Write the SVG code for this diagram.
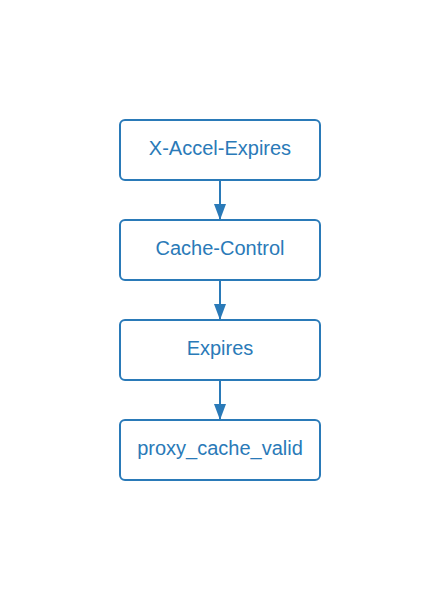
<svg xmlns="http://www.w3.org/2000/svg" width="440" height="600" viewBox="0 0 440 600">
<style>
.node rect{fill:#fff;stroke:#2a7ab8;stroke-width:2}
.node text{fill:#2a7ab8;font-family:"Liberation Sans",Arial,sans-serif;font-size:20px;text-anchor:middle}
.edge{stroke:#2a7ab8;stroke-width:2;fill:none}
</style>
<defs>
<marker id="arr" markerWidth="16" markerHeight="12" refX="16" refY="6" orient="auto" markerUnits="userSpaceOnUse" viewBox="0 0 16 12">
<path d="M0,0 L16,6 L0,12 Z" fill="#2a7ab8"/>
</marker>
</defs>
<rect width="440" height="600" fill="#fff"/>
<g id="connectors">
<line class="edge" x1="220" y1="181" x2="220" y2="220" marker-end="url(#arr)"/>
<line class="edge" x1="220" y1="281" x2="220" y2="320" marker-end="url(#arr)"/>
<line class="edge" x1="220" y1="381" x2="220" y2="420" marker-end="url(#arr)"/>
</g>
<g id="n1" class="node"><rect x="120" y="120" width="200" height="60" rx="5"/><text x="220" y="155">X-Accel-Expires</text></g>
<g id="n2" class="node"><rect x="120" y="220" width="200" height="60" rx="5"/><text x="220" y="255">Cache-Control</text></g>
<g id="n3" class="node"><rect x="120" y="320" width="200" height="60" rx="5"/><text x="220" y="355">Expires</text></g>
<g id="n4" class="node"><rect x="120" y="420" width="200" height="60" rx="5"/><text x="220" y="455">proxy_cache_valid</text></g>
</svg>
